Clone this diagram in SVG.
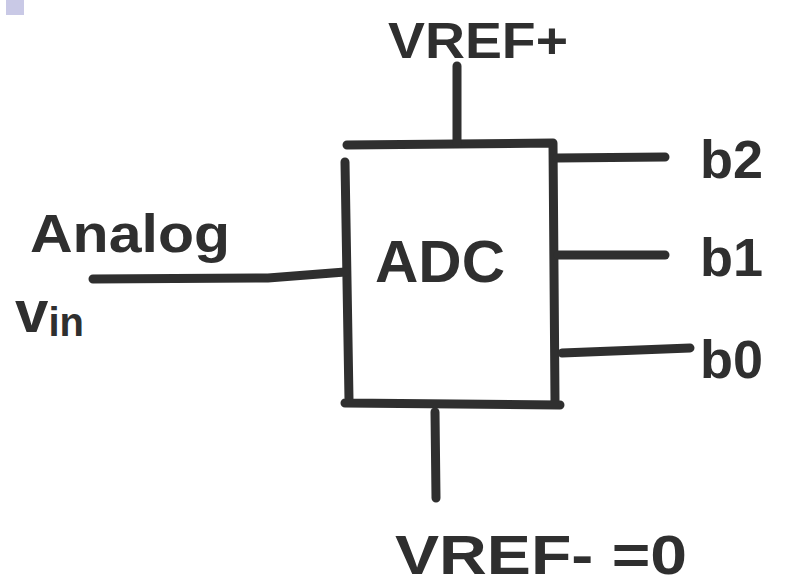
<svg xmlns="http://www.w3.org/2000/svg" width="789" height="586" viewBox="0 0 789 586">
<style>
.w{stroke:#2f2f2f;stroke-width:9;stroke-linecap:round;fill:none}
.t{font-family:"Liberation Sans",Arial,sans-serif;fill:#2f2f2f;font-weight:bold}
.b{font-size:54px}
</style>
<rect width="789" height="586" fill="#fff"/>
<rect x="6" y="0" width="18" height="15" fill="#c9c9e6"/>
<g id="adc">
<path class="w" d="M347 145 L553 143 M345 162 L349 400 M553 143 L555 400 M345 403 L560 405"/>
<text class="t" x="440" y="282" font-size="60" text-anchor="middle">ADC</text>
</g>
<g id="vrefp"><text class="t" x="388" y="58" font-size="50" textLength="180" lengthAdjust="spacingAndGlyphs">VREF+</text></g>
<g id="vrefm"><text class="t" x="395" y="574" font-size="56" textLength="292" lengthAdjust="spacingAndGlyphs">VREF- =0</text></g>
<g id="vin">
<text class="t" x="30" y="252" font-size="54" textLength="200" lengthAdjust="spacingAndGlyphs">Analog</text>
<text class="t" x="15" y="332" font-size="60">v<tspan font-size="40" dy="4">in</tspan></text>
</g>
<g id="b2"><text class="t b" x="700" y="178">b2</text></g>
<g id="b1"><text class="t b" x="700" y="276">b1</text></g>
<g id="b0"><text class="t b" x="700" y="378">b0</text></g>
<g id="connectors">
<path class="w" d="M457 66 L457 143"/>
<path class="w" d="M435 412 L436 498"/>
<path class="w" d="M93 279 L268 278 L345 272"/>
<path class="w" d="M557 158 L665 157"/>
<path class="w" d="M558 255 L665 255"/>
<path class="w" d="M562 353 L690 348"/>
</g>
</svg>
